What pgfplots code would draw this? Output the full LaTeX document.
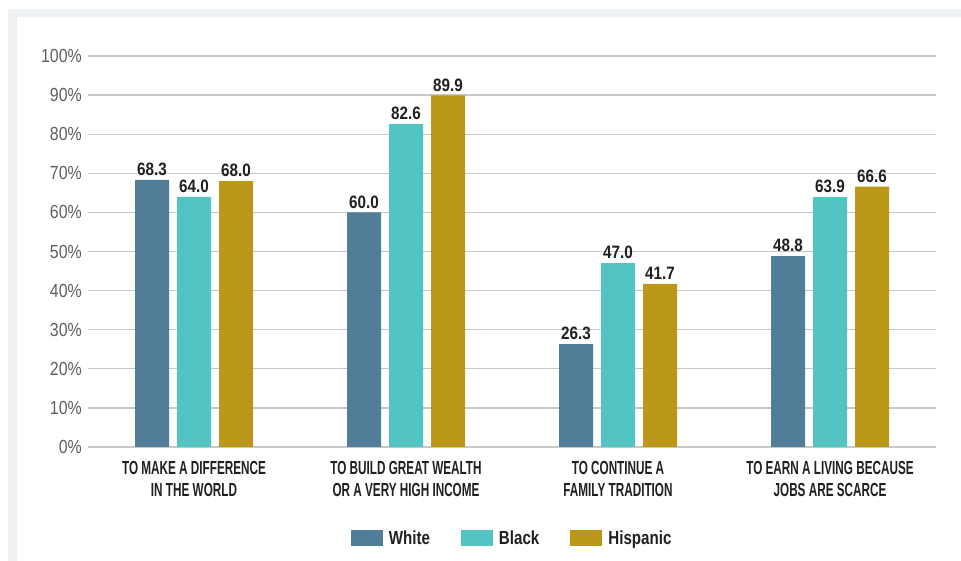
\documentclass[border=0pt]{standalone}
\usepackage{pgfplots}
\pgfplotsset{compat=1.18}
\usepackage{fontspec}
\setmainfont{Liberation Sans}
\newfontfamily\catfont{Liberation Sans}[FakeStretch=0.62]
\newfontfamily\numfont{Liberation Sans}[FakeStretch=0.85]
\newfontfamily\legfont{Liberation Sans}[FakeStretch=0.80]
\newfontfamily\tickfont{Liberation Sans}[FakeStretch=0.84]
\definecolor{cwhite}{HTML}{517D99}
\definecolor{cblack}{HTML}{52C4C4}
\definecolor{chisp}{HTML}{BB971A}
\definecolor{band}{HTML}{EDF1F4}
\definecolor{gridc}{HTML}{C8C8C8}
\definecolor{txt}{HTML}{231F20}
\definecolor{tickc}{HTML}{606060}
\begin{document}
\begin{tikzpicture}
\useasboundingbox (0,0) rectangle (961bp,561bp);
\fill[white] (0,0) rectangle (961bp,561bp);
\fill[band] (8bp,0) rectangle (17bp,552bp);
\fill[band] (8bp,544bp) rectangle (961bp,552bp);
\begin{axis}[
  at={(88bp,114bp)}, anchor=south west,
  scale only axis, width=848bp, height=391bp,
  ybar=8bp, bar width=34bp,
  xmin=-0.5, xmax=3.5, ymin=0, ymax=100,
  xtick={0,1,2,3},
  xticklabels={{TO MAKE A DIFFERENCE\\IN THE WORLD},{TO BUILD GREAT WEALTH\\OR A VERY HIGH INCOME},{TO CONTINUE A\\FAMILY TRADITION},{TO EARN A LIVING BECAUSE\\JOBS ARE SCARCE}},
  xticklabel style={align=center, anchor=north, inner sep=0pt, yshift=-14bp, text=txt, font=\catfont\bfseries\fontsize{19}{22}\selectfont},
  ytick={0,10,...,100},
  yticklabel={\pgfmathprintnumber{\tick}\%},
  yticklabel style={anchor=east, inner sep=0pt, xshift=-6bp, text=tickc, font=\tickfont\fontsize{19}{22}\selectfont},
  /pgf/number format/assume math mode=true,
  major tick length=0pt,
  axis line style={draw=none},
  ymajorgrids, grid style={gridc, line width=1.3bp},
  nodes near coords={\pgfmathprintnumber[fixed,fixed zerofill,precision=1]{\pgfplotspointmeta}},
  every node near coord/.append style={anchor=south, inner sep=0pt, yshift=4bp, text=txt, font=\numfont\bfseries\fontsize{18}{20}\selectfont},
  legend columns=3,
  legend image code/.code={\fill[#1,draw=none] (0bp,-8bp) rectangle (32bp,8bp);},
  legend style={at={(0.499,-0.233)}, anchor=center, draw=none, fill=none,
    nodes={inner sep=0pt, text=txt, font=\legfont\bfseries\fontsize{19}{22}\selectfont},
    /tikz/every odd column/.append style={column sep=6bp},
    /tikz/every even column/.append style={column sep=31bp}},
]
\addplot[fill=cwhite, draw=none] coordinates {(0,68.3) (1,60.0) (2,26.3) (3,48.8)};
\addplot[fill=cblack, draw=none] coordinates {(0,64.0) (1,82.6) (2,47.0) (3,63.9)};
\addplot[fill=chisp, draw=none] coordinates {(0,68.0) (1,89.9) (2,41.7) (3,66.6)};
\legend{White,Black,Hispanic}
\end{axis}
\end{tikzpicture}
\end{document}
